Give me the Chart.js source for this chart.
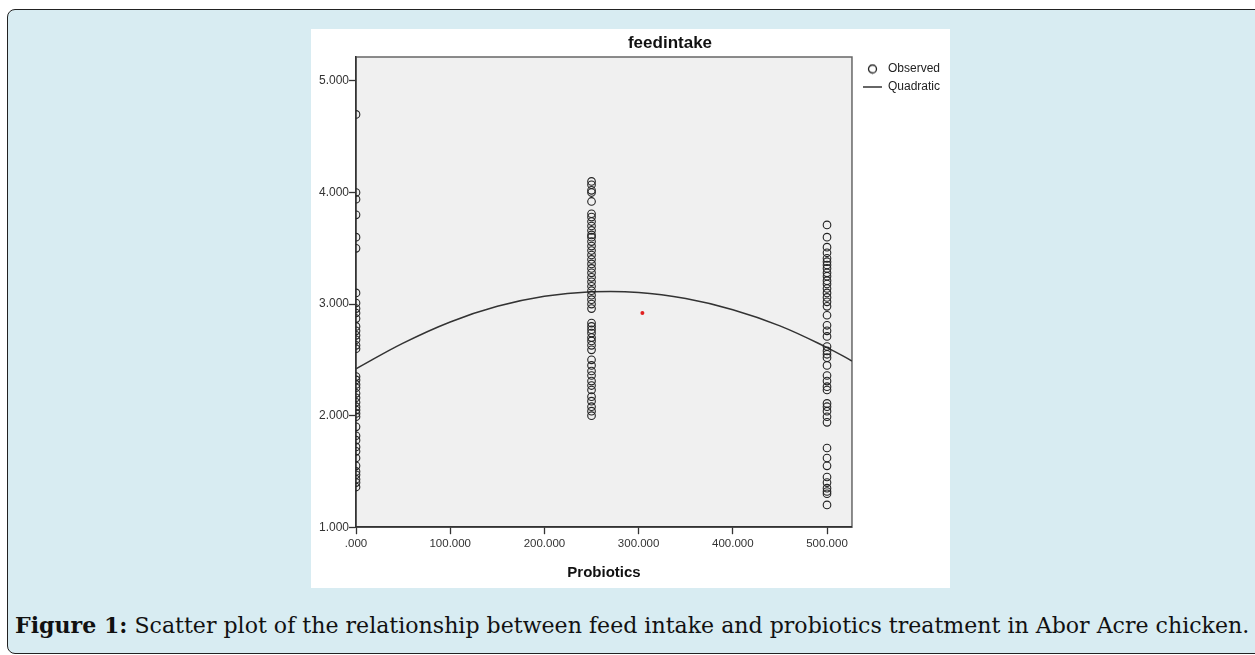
<!DOCTYPE html>
<html>
<head>
<meta charset="utf-8">
<script src="https://cdn.jsdelivr.net/npm/chart.js@4/dist/chart.umd.min.js"></script>
<style>
  html, body { margin: 0; padding: 0; }
  body { width: 1255px; height: 655px; overflow: hidden; background: #fff; position: relative; }
  .frame {
    position: absolute; left: 7px; top: 9px; width: 1275px; height: 645px;
    background: #d8ecf2; border: 1.5px solid #222; border-radius: 8px; box-sizing: border-box;
  }
  .plot { position: absolute; left: 311px; top: 29px; width: 639px; height: 559px; background: #fff; }
  .caption {
    position: absolute; left: 15px; top: 614px; font-family: "DejaVu Serif", serif;
    font-size: 20px; line-height: 1; color: #111; white-space: nowrap;
  }
</style>
</head>
<body>
<div class="frame"></div>
<div class="plot"><canvas id="chart" width="639" height="559"></canvas></div>
<div class="caption" id="caption"><b>Figure 1:</b> Scatter plot of the relationship between feed intake and probiotics treatment in Abor Acre chicken.</div>
<script>
// probiotics doses (x) and feed intake (y)
const doses = [0, 250, 500];
const intake0 = [4.70, 4.00, 3.94, 3.80, 3.60, 3.50, 3.10, 3.01, 2.96, 2.92, 2.87, 2.80, 2.76, 2.72,
  2.68, 2.63, 2.60, 2.35, 2.32, 2.28, 2.25, 2.20, 2.16, 2.12, 2.08, 2.05, 2.02, 1.99, 1.90, 1.82,
  1.78, 1.72, 1.68, 1.62, 1.55, 1.50, 1.47, 1.43, 1.40, 1.36];
const intake250 = [4.10, 4.07, 4.02, 4.00, 3.92, 3.81, 3.78, 3.74, 3.70, 3.66, 3.62, 3.60, 3.56,
  3.52, 3.48, 3.44, 3.40, 3.36, 3.32, 3.28, 3.24, 3.20, 3.16, 3.12, 3.08, 3.04, 3.00, 2.96, 2.83,
  2.80, 2.77, 2.74, 2.70, 2.67, 2.63, 2.59, 2.50, 2.45, 2.40, 2.36, 2.31, 2.27, 2.23, 2.17, 2.13,
  2.08, 2.04, 2.00];
const intake500 = [3.71, 3.60, 3.51, 3.46, 3.41, 3.38, 3.35, 3.32, 3.28, 3.25, 3.21, 3.18, 3.14,
  3.10, 3.06, 3.02, 2.98, 2.90, 2.81, 2.76, 2.71, 2.62, 2.58, 2.55, 2.52, 2.45, 2.36, 2.31, 2.26,
  2.23, 2.11, 2.08, 2.04, 1.99, 1.94, 1.71, 1.62, 1.55, 1.45, 1.40, 1.35, 1.32, 1.30, 1.20];

// quadratic fit line, read at regular x positions
const curveX = [0, 50, 100, 150, 200, 250, 300, 350, 400, 450, 500, 526.5];
const curveY = [2.42, 2.65, 2.84, 2.98, 3.07, 3.11, 3.105, 3.05, 2.95, 2.805, 2.61, 2.49];

// the little red dot
const markX = [304];
const markY = [2.92];

const xTicks = [0, 100, 200, 300, 400, 500];
const yTicks = [1, 2, 3, 4, 5];
const xMax = 526.5;
const yMin = 1;
const yMax = 5.215;

// fit caption to the frame width
const cap = document.getElementById('caption');
const capW = cap.getBoundingClientRect().width;
cap.style.fontSize = (20 * 1235 / capW) + 'px';

const font = '"Liberation Sans", Arial, sans-serif';
const ink = '#222';

const observed = [];
[intake0, intake250, intake500].forEach((col, i) => {
  col.forEach(v => observed.push({x: doses[i], y: v}));
});

// open circle for the legend
const circleIcon = document.createElement('canvas');
circleIcon.width = 11;
circleIcon.height = 11;
{
  const c = circleIcon.getContext('2d');
  c.strokeStyle = ink;
  c.lineWidth = 1.3;
  c.beginPath();
  c.arc(5.5, 5.5, 4, 0, Math.PI * 2);
  c.stroke();
}

const plotFrame = {
  id: 'plotFrame',
  beforeDraw(chart) {
    const {ctx, chartArea: a} = chart;
    ctx.save();
    ctx.fillStyle = '#f0f0f0';
    ctx.fillRect(a.left, a.top, a.right - a.left, a.bottom - a.top);
    ctx.strokeStyle = '#666';
    ctx.lineWidth = 1.5;
    ctx.strokeRect(a.left, a.top, a.right - a.left, a.bottom - a.top);
    ctx.restore();
  },
  afterDraw(chart) {
    const {ctx, chartArea: a} = chart;
    ctx.save();
    ctx.font = 'bold 17px ' + font;
    ctx.fillStyle = '#111';
    ctx.textAlign = 'center';
    ctx.textBaseline = 'middle';
    ctx.fillText('feedintake', (a.left + a.right) / 2 + 66, 14);
    ctx.restore();
  }
};

new Chart(document.getElementById('chart'), {
  type: 'scatter',
  data: {
    datasets: [
      {
        label: 'Observed',
        data: observed,
        pointStyle: 'circle',
        pointRadius: 3.8,
        pointHoverRadius: 3.8,
        borderColor: ink,
        borderWidth: 1.1,
        backgroundColor: 'rgba(0,0,0,0)',
        clip: 0
      },
      {
        label: 'Quadratic',
        type: 'line',
        data: curveX.map((x, i) => ({x: x, y: curveY[i]})),
        pointStyle: 'line',
        pointRadius: 0,
        borderColor: '#333',
        borderWidth: 1.5,
        tension: 0.4,
        fill: false,
        clip: 0
      },
      {
        label: 'mark',
        data: markX.map((x, i) => ({x: x, y: markY[i]})),
        pointRadius: 2,
        borderWidth: 0,
        backgroundColor: '#e02020'
      }
    ]
  },
  options: {
    responsive: false,
    animation: false,
    layout: {padding: {left: 8, right: 0, top: 28, bottom: 6}},
    scales: {
      x: {
        type: 'linear',
        min: 0,
        max: xMax,
        afterBuildTicks: s => { s.ticks = xTicks.map(v => ({value: v})); },
        grid: {drawOnChartArea: false, drawTicks: true, tickLength: 7, tickColor: '#333', tickWidth: 1.3},
        border: {display: true, color: '#333', width: 1.5},
        ticks: {
          padding: 3, color: '#333', font: {family: font, size: 11.5}, maxRotation: 0,
          callback: v => v === 0 ? '.000' : v.toFixed(3)
        },
        title: {display: true, text: 'Probiotics', color: '#111',
          font: {family: font, size: 15, weight: 'bold'}, padding: {top: 10, bottom: 0}}
      },
      y: {
        type: 'linear',
        min: yMin,
        max: yMax,
        afterBuildTicks: s => { s.ticks = yTicks.map(v => ({value: v})); },
        grid: {drawOnChartArea: false, drawTicks: true, tickLength: 7, tickColor: '#333', tickWidth: 1.3},
        border: {display: true, color: '#333', width: 1.5},
        ticks: {padding: 0, color: '#333', font: {family: font, size: 12}, callback: v => v.toFixed(3)}
      },
      spacer: {
        type: 'linear',
        position: 'right',
        display: true,
        grid: {display: false},
        border: {display: false},
        ticks: {display: false},
        afterFit: s => { s.width = 5; }
      }
    },
    plugins: {
      title: {display: false},
      tooltip: {enabled: false},
      legend: {
        position: 'right',
        align: 'start',
        labels: {
          usePointStyle: true,
          pointStyleWidth: 19,
          boxHeight: 8,
          padding: 6,
          color: ink,
          font: {family: font, size: 12},
          filter: item => item.text !== 'mark',
          generateLabels: chart => {
            const items = Chart.defaults.plugins.legend.labels.generateLabels(chart);
            items.forEach(it => { if (it.text === 'Observed') it.pointStyle = circleIcon; });
            return items;
          }
        }
      }
    }
  },
  plugins: [plotFrame]
});
</script>
</body>
</html>
